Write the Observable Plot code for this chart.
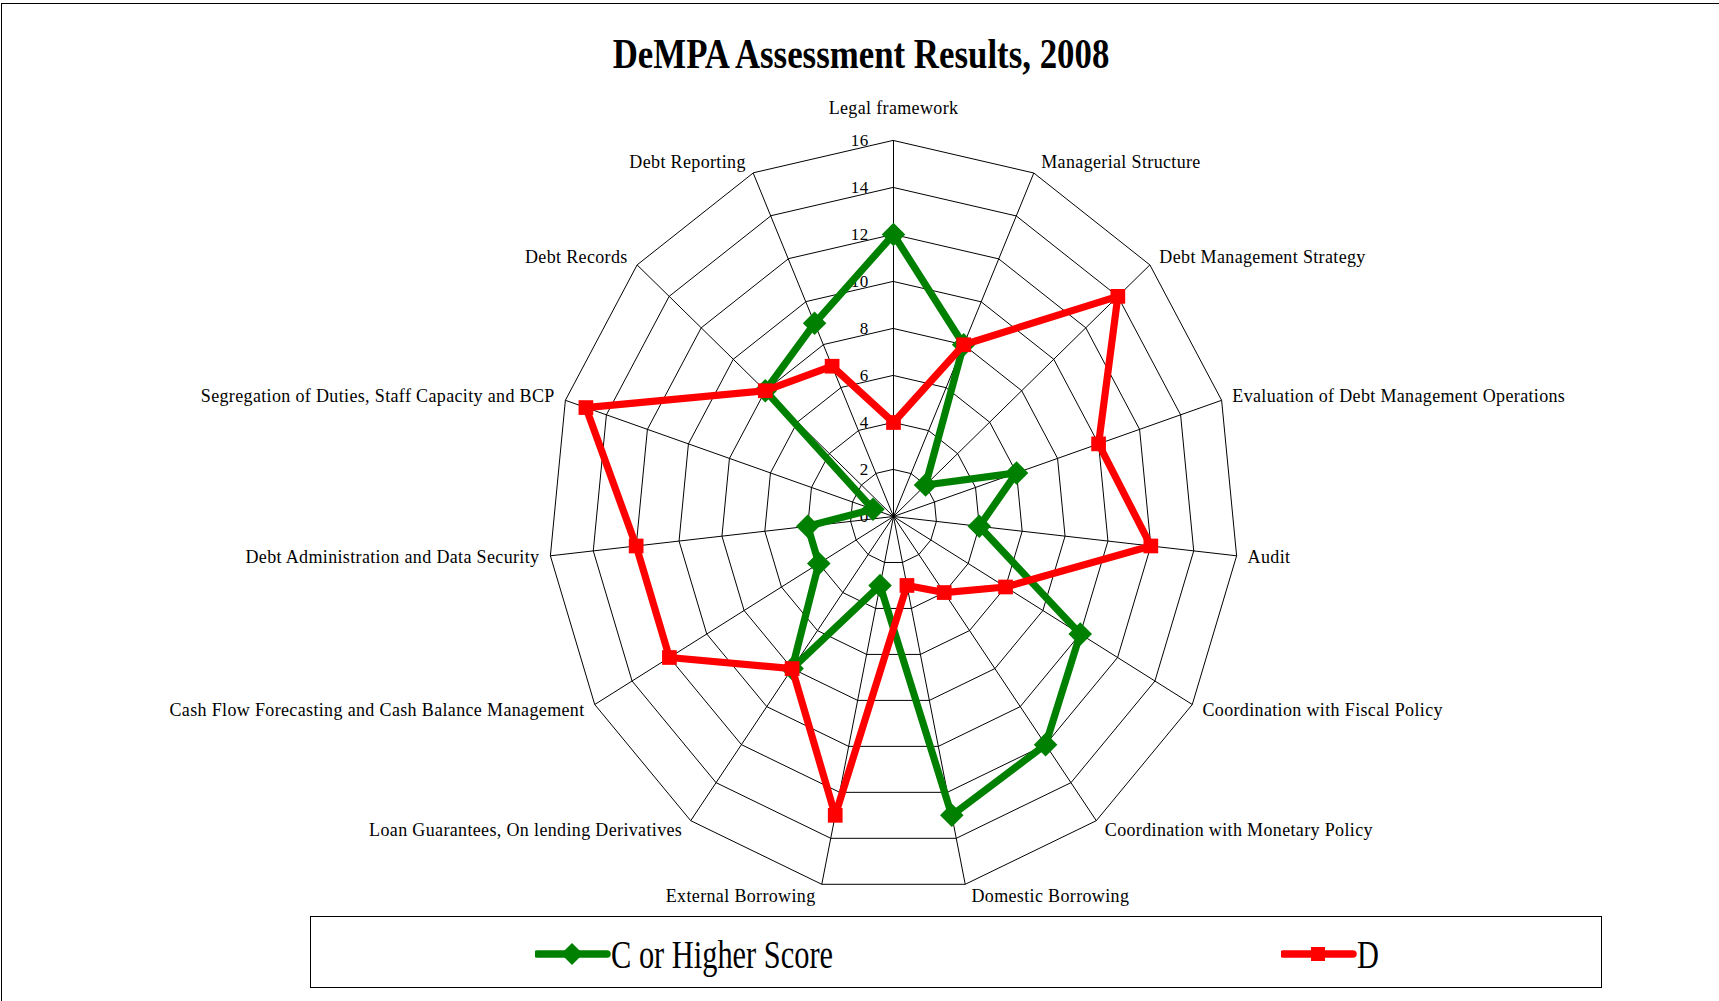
<!DOCTYPE html>
<html>
<head>
<meta charset="utf-8">
<script src="https://cdn.jsdelivr.net/npm/d3@7"></script>
<script src="https://cdn.jsdelivr.net/npm/@observablehq/plot@0.6"></script>
<style>
html, body { margin: 0; padding: 0; background: #fff; }
#page { position: relative; width: 1719px; height: 1001px; overflow: hidden; font-family: "Liberation Serif", "Times New Roman", serif; color: #000; }
#frame { position: absolute; left: 1px; top: 3px; right: -10px; bottom: -10px; border-top: 1px solid #000; border-left: 1px solid #000; pointer-events: none; }
#title { position: absolute; left: 0; top: 0; width: 1719px; height: 90px; }
#title span { position: absolute; left: 861px; top: 32px; font-size: 43px; line-height: 43px; font-weight: bold; white-space: nowrap; transform: translateX(-50%) scaleX(0.81); transform-origin: center; }
#chart { position: absolute; left: 0; top: 90px; }
#chart svg { letter-spacing: 0.35px; }
#legend { position: absolute; left: 310px; top: 916px; width: 1290px; height: 70px; border: 1.5px solid #000; background: #fff; }
#legend .lbl { position: absolute; font-size: 40px; line-height: 40px; white-space: nowrap; transform: scaleX(0.76); transform-origin: left center; }
</style>
</head>
<body>
<div id="page">
  <div id="frame"></div>
  <div id="title"><span id="titleText"></span></div>
  <div id="chart"></div>
  <div id="legend"></div>
</div>
<script>
// ---- data ----
const titleText = "DeMPA Assessment Results, 2008";
const categories = [
  "Legal framework",
  "Managerial Structure",
  "Debt Management Strategy",
  "Evaluation of Debt Management Operations",
  "Audit",
  "Coordination with Fiscal Policy",
  "Coordination with Monetary Policy",
  "Domestic Borrowing",
  "External Borrowing",
  "Loan Guarantees, On lending Derivatives",
  "Cash Flow Forecasting and Cash Balance Management",
  "Debt Administration and Data Security",
  "Segregation of Duties, Staff Capacity and BCP",
  "Debt Records",
  "Debt Reporting"
];
const cOrHigher = [12, 8, 2, 6, 4, 10, 12, 13, 3, 8, 4, 4, 1, 8, 9];
const dScore    = [4, 8, 14, 10, 12, 6, 4, 3, 13, 8, 12, 12, 15, 8, 7];
const seriesNames = ["C or Higher Score", "D"];
const seriesColors = ["#008000", "#ff0000"];
const tickValues = [0, 2, 4, 6, 8, 10, 12, 14, 16];

// ---- geometry helpers ----
const N = categories.length;
const maxV = d3.max(tickValues);
const angle = i => 2 * Math.PI * i / N;
const pt = (v, i) => ({ x: v * Math.sin(angle(i)), y: v * Math.cos(angle(i)) });

const W = 1719, H = 820, CX = 893, CY = 426;
const KX = 345 / maxV, KY = 376 / maxV; // px per unit

const rings = tickValues.filter(t => t > 0).flatMap(t => categories.map((c, i) => ({ ring: t, ...pt(t, i) })));
const spokes = categories.map((c, i) => { const p = pt(maxV, i); return { x1: 0, y1: 0, x2: p.x, y2: p.y }; });
const seriesData = [cOrHigher, dScore].map((vals, s) => vals.map((v, i) => ({ series: seriesNames[s], cat: categories[i], value: v, ...pt(v, i) })));

const labels = categories.map((c, i) => {
  const s = Math.sin(angle(i)), co = Math.cos(angle(i));
  const sign = Math.abs(s) < 0.01 ? 0 : Math.sign(s);
  const ox = sign * (5 + 6 * Math.abs(s));
  const oy = 12 * co + (i === 0 ? 20 : 0);
  const p = pt(maxV, i);
  return { text: c, x: p.x + ox / KX, y: p.y + oy / KY, side: sign };
});
const tickLabels = tickValues.map(t => ({ x: 0, y: t, text: String(t) }));

const diamond = { draw(ctx, size) { const h = Math.sqrt(size / 2); ctx.moveTo(0, -h); ctx.lineTo(h, 0); ctx.lineTo(0, h); ctx.lineTo(-h, 0); ctx.closePath(); } };
const square = { draw(ctx, size) { const h = Math.sqrt(size) / 2; ctx.rect(-h, -h, 2 * h, 2 * h); } };
const symbols = [diamond, square];
const dotR = [9.4, 8.3];

const marks = [
  Plot.line(rings, { x: "x", y: "y", z: "ring", curve: "linear-closed", stroke: "#000", strokeWidth: 1 }),
  Plot.link(spokes, { x1: "x1", y1: "y1", x2: "x2", y2: "y2", stroke: "#000", strokeWidth: 1 }),
  Plot.text(tickLabels, { x: "x", y: "y", text: "text", textAnchor: "end", dx: -25, fontSize: 17, fill: "#000" })
];
seriesData.forEach((d, s) => {
  marks.push(Plot.line(d, { x: "x", y: "y", curve: "linear-closed", stroke: seriesColors[s], strokeWidth: 7.2, strokeLinejoin: "round" }));
  marks.push(Plot.dot(d, { x: "x", y: "y", symbol: symbols[s], r: dotR[s], fill: seriesColors[s], stroke: "none" }));
});
marks.push(
  Plot.text(labels.filter(d => d.side === 0), { x: "x", y: "y", text: "text", textAnchor: "middle", fontSize: 18, fill: "#000" }),
  Plot.text(labels.filter(d => d.side > 0), { x: "x", y: "y", text: "text", textAnchor: "start", fontSize: 18, fill: "#000" }),
  Plot.text(labels.filter(d => d.side < 0), { x: "x", y: "y", text: "text", textAnchor: "end", fontSize: 18, fill: "#000" })
);

const chart = Plot.plot({
  width: W, height: H,
  marginLeft: CX - maxV * KX, marginRight: W - (CX + maxV * KX),
  marginTop: CY - maxV * KY, marginBottom: H - (CY + maxV * KY),
  x: { domain: [-maxV, maxV], axis: null },
  y: { domain: [-maxV, maxV], axis: null },
  style: { fontFamily: "'Liberation Serif', 'Times New Roman', serif", background: "transparent", color: "#000" },
  marks
});
document.getElementById("chart").appendChild(chart);
document.getElementById("titleText").textContent = titleText;

// ---- legend ----
const legend = document.getElementById("legend");
const legendPos = [{ lineX: 224, textX: 300 }, { lineX: 970, textX: 1046 }];
seriesNames.forEach((name, s) => {
  const ns = "http://www.w3.org/2000/svg";
  const svg = document.createElementNS(ns, "svg");
  svg.setAttribute("width", 76); svg.setAttribute("height", 70);
  svg.style.position = "absolute"; svg.style.left = legendPos[s].lineX + "px"; svg.style.top = "0px";
  const ln = document.createElementNS(ns, "line");
  ln.setAttribute("x1", 2); ln.setAttribute("x2", 72); ln.setAttribute("y1", 37); ln.setAttribute("y2", 37);
  ln.setAttribute("stroke", seriesColors[s]); ln.setAttribute("stroke-width", 7.5); ln.setAttribute("stroke-linecap", "round");
  svg.appendChild(ln);
  const mk = document.createElementNS(ns, "path");
  mk.setAttribute("d", s === 0 ? "M37,26L48,37L37,48L26,37Z" : "M30,30H44V44H30Z");
  mk.setAttribute("fill", seriesColors[s]);
  svg.appendChild(mk);
  legend.appendChild(svg);
  const t = document.createElement("div");
  t.className = "lbl";
  t.textContent = name;
  t.style.left = legendPos[s].textX + "px";
  t.style.top = "18px";
  legend.appendChild(t);
});
</script>
</body>
</html>
